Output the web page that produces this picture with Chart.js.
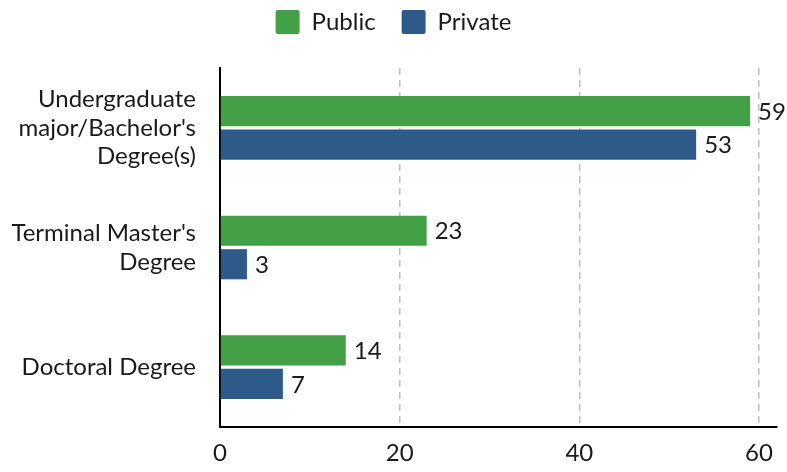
<!DOCTYPE html>
<html>
<head>
<meta charset="utf-8">
<script src="https://cdn.jsdelivr.net/npm/chart.js@4/dist/chart.umd.min.js"></script>
<style>
  html, body { margin: 0; padding: 0; background: #fff; }
  #wrap { width: 787px; height: 472px; }
</style>
</head>
<body>
<div id="wrap"><canvas id="degreeChart"></canvas></div>
<script>
  const categories = [
    ['Undergraduate', "major/Bachelor's", 'Degree(s)'],
    ["Terminal Master's", 'Degree'],
    'Doctoral Degree'
  ];
  const publicValues = [59, 23, 14];
  const privateValues = [53, 3, 7];
  const xTicks = [0, 20, 40, 60];

  const textColor = '#1a1a1a';
  const font = { family: 'Lato', size: 24 };

  const valueLabels = {
    id: 'valueLabels',
    afterDatasetsDraw(chart) {
      const ctx = chart.ctx;
      ctx.save();
      ctx.font = '24px Lato';
      ctx.fillStyle = textColor;
      ctx.textAlign = 'left';
      ctx.textBaseline = 'middle';
      chart.data.datasets.forEach((ds, i) => {
        chart.getDatasetMeta(i).data.forEach((bar, j) => {
          ctx.fillText(String(ds.data[j]), bar.x + 8, bar.y + 1);
        });
      });
      ctx.restore();
    }
  };

  // extra room under the legend
  const legendGap = {
    id: 'legendGap',
    beforeInit(chart) {
      const fit = chart.legend.fit;
      chart.legend.fit = function () {
        fit.bind(chart.legend)();
        this.height += 24;
      };
    }
  };

  new Chart(document.getElementById('degreeChart'), {
    type: 'bar',
    data: {
      labels: categories,
      datasets: [
        {
          label: 'Public',
          data: publicValues,
          backgroundColor: '#43a047',
          categoryPercentage: 0.56,
          barPercentage: 0.9
        },
        {
          label: 'Private',
          data: privateValues,
          backgroundColor: '#2e5a8a',
          categoryPercentage: 0.56,
          barPercentage: 0.9
        }
      ]
    },
    options: {
      indexAxis: 'y',
      responsive: true,
      maintainAspectRatio: false,
      animation: false,
      layout: { padding: { left: 10, right: 10, top: -16, bottom: 3 } },
      plugins: {
        legend: {
          position: 'top',
          labels: {
            font: font,
            color: textColor,
            boxWidth: 24,
            boxHeight: 24,
            useBorderRadius: true,
            borderRadius: 2,
            padding: 26
          }
        },
        tooltip: { enabled: false }
      },
      scales: {
        x: {
          min: 0,
          max: 62,
          afterBuildTicks(axis) {
            axis.ticks = xTicks.map(v => ({ value: v }));
          },
          afterFit(scale) { scale.height = 42; },
          ticks: { font: font, color: textColor, padding: 12 },
          grid: {
            drawTicks: false,
            color: ctx => (ctx.tick && ctx.tick.value === 0 ? 'rgba(0,0,0,0)' : '#bdbdbd'),
            lineWidth: 1.5
          },
          border: { display: true, color: '#000', width: 2, dash: [7, 5] }
        },
        y: {
          afterFit(scale) {
            scale.width = 210;
            scale.paddingTop = 0;
            scale.paddingBottom = 0;
          },
          ticks: { font: font, color: textColor, padding: 24 },
          grid: { display: false, drawTicks: false },
          border: { display: true, color: '#000', width: 2 }
        }
      }
    },
    plugins: [valueLabels, legendGap]
  });
</script>
</body>
</html>
